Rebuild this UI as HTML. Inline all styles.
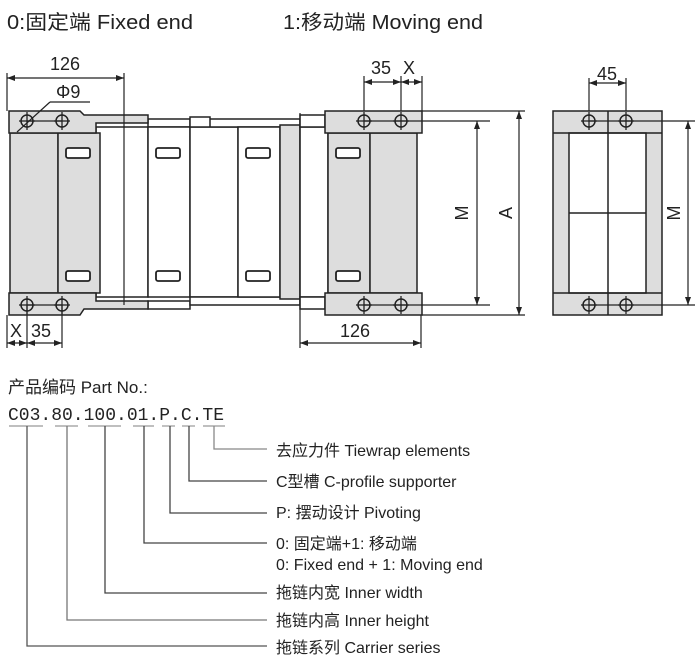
<!DOCTYPE html>
<html><head><meta charset="utf-8"><style>
body{margin:0;background:#fff;}
svg{display:block;font-family:"Liberation Sans","Noto Sans CJK SC",sans-serif;}
</style></head><body>
<svg width="700" height="663" viewBox="0 0 700 663" xmlns="http://www.w3.org/2000/svg">
<defs>
<marker id="a" markerWidth="8" markerHeight="6" refX="8" refY="3" orient="auto-start-reverse" markerUnits="userSpaceOnUse"><path d="M0,0 L8,3 L0,6 z" fill="#222"/></marker>
<g id="hole"><circle r="6" fill="none" stroke="#222" stroke-width="1.5"/><line x1="-8" y1="0" x2="8" y2="0" stroke="#222" stroke-width="1.3"/><line x1="0" y1="-9" x2="0" y2="9" stroke="#222" stroke-width="1.3"/></g>
<rect id="slot" width="24" height="10" rx="2" fill="#fff" stroke="#222" stroke-width="1.8"/>
</defs>
<text x="7" y="29" font-size="20" fill="#222" textLength="186" lengthAdjust="spacingAndGlyphs">0:固定端 Fixed end</text>
<text x="283" y="29" font-size="20" fill="#222" textLength="200" lengthAdjust="spacingAndGlyphs">1:移动端 Moving end</text>

<g stroke="#222" stroke-width="1.5" fill="#fff">
<rect x="96" y="127" width="52" height="170" fill="#fff"/>
<path d="M148 119 H190 V127 H148 Z" fill="#fff"/>
<path d="M148 301 H190 V309 H148 Z" fill="#fff"/>
<rect x="148" y="127" width="42" height="170"/>
<rect x="190" y="127" width="48" height="170"/>
<path d="M190 117 H210 V127 H190Z M210 119 H300 V127 H210Z"/>
<path d="M190 297 H300 V305 H190Z"/>
<rect x="238" y="127" width="42" height="170"/>
<rect x="280" y="125" width="20" height="174" fill="#ddd"/>
<rect x="300" y="127" width="28" height="170"/>
<rect x="300" y="115" width="25" height="12" fill="#fff"/>
<rect x="300" y="297" width="25" height="12" fill="#fff"/>
<rect x="10" y="133" width="48" height="160" fill="#ddd"/>
<rect x="58" y="133" width="42" height="160" fill="#ddd"/>
<path d="M9 111 H80 L84 115 H148 V123 H96 V133 H9 Z" fill="#ddd"/>
<path d="M9 293 H96 V301 H148 V309 H84 L80 315 H9 Z" fill="#ddd"/>
<rect x="328" y="133" width="42" height="160" fill="#ddd"/>
<rect x="370" y="133" width="47" height="160" fill="#ddd"/>
<rect x="325" y="111" width="97" height="22" fill="#ddd"/>
<rect x="325" y="293" width="97" height="22" fill="#ddd"/>
<rect x="553" y="111" width="109" height="204" fill="#ddd"/>
<rect x="569" y="133" width="77" height="160" fill="#fff"/>
<line x1="553" y1="133" x2="662" y2="133"/><line x1="553" y1="293" x2="662" y2="293"/>
<line x1="608" y1="111" x2="608" y2="315"/>
<line x1="569" y1="213" x2="646" y2="213"/>
</g>
<g fill="#fff">
<use href="#slot" x="66" y="148"/><use href="#slot" x="66" y="271"/>
<use href="#slot" x="156" y="148"/><use href="#slot" x="156" y="271"/>
<use href="#slot" x="246" y="148"/><use href="#slot" x="246" y="271"/>
<use href="#slot" x="336" y="148"/><use href="#slot" x="336" y="271"/>
</g>
<g stroke="#222" stroke-width="1.2">
<line x1="27" y1="121" x2="62" y2="121"/><line x1="27" y1="305" x2="62" y2="305"/>
<line x1="364" y1="121" x2="490" y2="121"/><line x1="364" y1="305" x2="490" y2="305"/>
<line x1="589" y1="121" x2="695" y2="121"/><line x1="589" y1="305" x2="695" y2="305"/>
<line x1="422" y1="111" x2="525" y2="111"/><line x1="422" y1="315" x2="525" y2="315"/>
</g>
<g>
<use href="#hole" x="27" y="121"/><use href="#hole" x="62" y="121"/>
<use href="#hole" x="27" y="305"/><use href="#hole" x="62" y="305"/>
<use href="#hole" x="364" y="121"/><use href="#hole" x="401" y="121"/>
<use href="#hole" x="364" y="305"/><use href="#hole" x="401" y="305"/>
<use href="#hole" x="589" y="121"/><use href="#hole" x="626" y="121"/>
<use href="#hole" x="589" y="305"/><use href="#hole" x="626" y="305"/>
</g>
<g stroke="#222" stroke-width="1.2" fill="none">
<line x1="7" y1="73" x2="7" y2="111"/><line x1="124" y1="73" x2="124" y2="305"/>
<line x1="7" y1="78" x2="124" y2="78" marker-start="url(#a)" marker-end="url(#a)"/>
<line x1="17" y1="132" x2="50" y2="102"/><line x1="50" y1="102" x2="90" y2="102"/>
<line x1="364" y1="76" x2="364" y2="111"/><line x1="401" y1="76" x2="401" y2="111"/><line x1="422" y1="76" x2="422" y2="111"/>
<line x1="364" y1="82" x2="401" y2="82" marker-start="url(#a)" marker-end="url(#a)"/>
<line x1="401" y1="82" x2="422" y2="82" marker-start="url(#a)" marker-end="url(#a)"/>
<line x1="589" y1="78" x2="589" y2="111"/><line x1="626" y1="78" x2="626" y2="111"/>
<line x1="589" y1="83" x2="626" y2="83" marker-start="url(#a)" marker-end="url(#a)"/>
<line x1="477" y1="121" x2="477" y2="305" marker-start="url(#a)" marker-end="url(#a)"/>
<line x1="519" y1="111" x2="519" y2="315" marker-start="url(#a)" marker-end="url(#a)"/>
<line x1="688" y1="121" x2="688" y2="305" marker-start="url(#a)" marker-end="url(#a)"/>
<line x1="300" y1="113" x2="300" y2="348"/><line x1="421" y1="315" x2="421" y2="348"/>
<line x1="300" y1="343" x2="421" y2="343" marker-start="url(#a)" marker-end="url(#a)"/>
<line x1="7" y1="315" x2="7" y2="348"/><line x1="27" y1="305" x2="27" y2="348"/><line x1="62" y1="305" x2="62" y2="348"/>
<line x1="7" y1="343" x2="27" y2="343" marker-start="url(#a)" marker-end="url(#a)"/>
<line x1="27" y1="343" x2="62" y2="343" marker-start="url(#a)" marker-end="url(#a)"/>
</g>
<g font-size="18" fill="#222">
<text x="50" y="70">126</text>
<text x="56" y="98">Φ9</text>
<text x="371" y="74">35</text>
<text x="403" y="74">X</text>
<text x="597" y="80">45</text>
<text x="340" y="337">126</text>
<text x="10" y="337">X</text>
<text x="31" y="337">35</text>
<text transform="translate(468,213) rotate(-90)" text-anchor="middle">M</text>
<text transform="translate(512,213) rotate(-90)" text-anchor="middle">A</text>
<text transform="translate(680,213) rotate(-90)" text-anchor="middle">M</text>
</g>
<text x="8" y="393" font-size="17" fill="#222">产品编码 Part No.:</text>
<text x="8" y="420" font-size="18" fill="#222" font-family="Liberation Mono, monospace">C03.80.100.01.P.C.TE</text>
<g stroke="#999" stroke-width="1.2">
<line x1="9" y1="426" x2="43" y2="426"/><line x1="55" y1="426" x2="78" y2="426"/><line x1="88" y1="426" x2="121" y2="426"/>
<line x1="133" y1="426" x2="154" y2="426"/><line x1="162" y1="426" x2="175" y2="426"/><line x1="182" y1="426" x2="195" y2="426"/><line x1="203" y1="426" x2="225" y2="426"/>
</g>
<g fill="none" stroke-width="1.3">
<path d="M214 426 V449 H267" stroke="#888"/>
<path d="M189 426 V481 H267" stroke="#444"/>
<path d="M170 426 V513 H267" stroke="#444"/>
<path d="M144 426 V543 H267" stroke="#444"/>
<path d="M105 426 V593 H267" stroke="#444"/>
<path d="M67 426 V620 H267" stroke="#777"/>
<path d="M27 426 V646 H267" stroke="#555"/>
</g>
<g font-size="16" fill="#222">
<text x="276" y="456">去应力件 Tiewrap elements</text>
<text x="276" y="487">C型槽 C-profile supporter</text>
<text x="276" y="518">P: 摆动设计 Pivoting</text>
<text x="276" y="549">0: 固定端+1: 移动端</text>
<text x="276" y="570">0: Fixed end + 1: Moving end</text>
<text x="276" y="598">拖链内宽 Inner width</text>
<text x="276" y="626">拖链内高 Inner height</text>
<text x="276" y="653">拖链系列 Carrier series</text>
</g>
</svg>
</body></html>
